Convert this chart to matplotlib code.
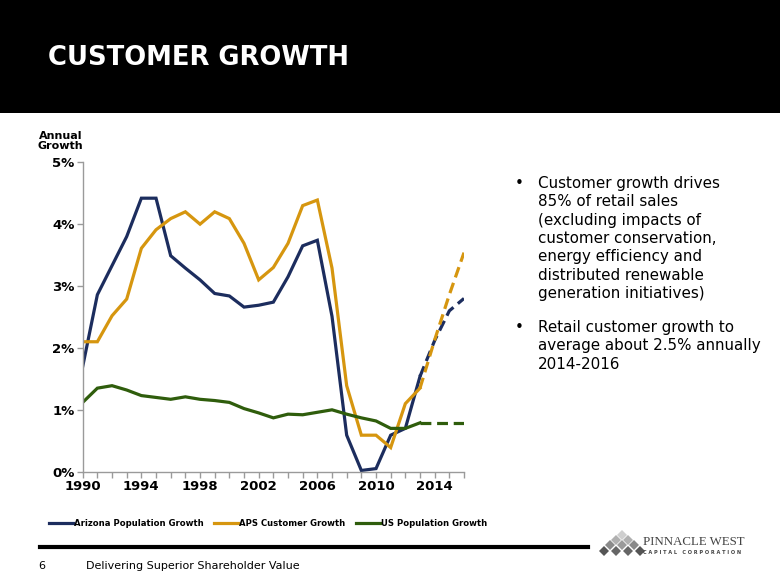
import numpy as np
import matplotlib
matplotlib.use("Agg")
import matplotlib.pyplot as plt
from matplotlib.patches import Rectangle, Polygon
from matplotlib.lines import Line2D

# data (annual growth, %)
years = list(range(1990, 2017))
arizona = [1.70, 2.86, 3.33, 3.80, 4.42, 4.42, 3.49, 3.29, 3.10, 2.88, 2.84, 2.66, 2.69,
           2.74, 3.15, 3.65, 3.74, 2.51, 0.59, 0.02, 0.05, 0.59, 0.70, 1.54, 2.12, 2.60, 2.80]
aps = [2.10, 2.10, 2.52, 2.79, 3.61, 3.91, 4.09, 4.20, 4.00, 4.20, 4.09, 3.69, 3.10,
       3.30, 3.69, 4.30, 4.39, 3.29, 1.39, 0.59, 0.59, 0.39, 1.10, 1.35, 2.13, 2.86, 3.54]
us = [1.12, 1.35, 1.39, 1.32, 1.23, 1.20, 1.17, 1.21, 1.17, 1.15, 1.12, 1.02, 0.95,
      0.87, 0.93, 0.92, 0.96, 1.00, 0.93, 0.87, 0.82, 0.70, 0.70, 0.79, 0.79, 0.79, 0.79]
last_actual = 2013  # dashed projection after this year

series_names = ["Arizona Population Growth", "APS Customer Growth", "US Population Growth"]
series_colors = ["#1c2d5e", "#d6960f", "#2f5d0c"]

xtick_years = [1990, 1994, 1998, 2002, 2006, 2010, 2014]
ytick_vals = [0, 1, 2, 3, 4, 5]

bullets = [
    "Customer growth drives\n85% of retail sales\n(excluding impacts of\ncustomer conservation,\nenergy efficiency and\ndistributed renewable\ngeneration initiatives)",
    "Retail customer growth to\naverage about 2.5% annually\n2014-2016",
]

fig = plt.figure(figsize=(7.8, 5.85), dpi=100)
fig.patch.set_facecolor("white")

# black header band
fig.patches.append(Rectangle((0, 1 - 113 / 585), 1, 113 / 585, transform=fig.transFigure,
                             facecolor="black", edgecolor="none", zorder=0))
fig.text(48 / 780, 1 - 58 / 585, "CUSTOMER GROWTH", color="white", fontsize=18.6,
         fontweight="bold", va="center", ha="left")

ax = fig.add_axes([82.7 / 780, 1 - 471.7 / 585, (464 - 82.7) / 780, (471.7 - 162.3) / 585])

yrs = np.array(years)
split = years.index(last_actual)
for vals, col in zip([arizona, aps, us], series_colors):
    vals = np.array(vals)
    ax.plot(yrs[:split + 1], vals[:split + 1], color=col, lw=2.3, solid_joinstyle="miter")
    ax.plot(yrs[split:], vals[split:], color=col, lw=2.3, ls=(0, (3.4, 1.8)))

ax.set_xlim(1990, 2016)
ax.set_ylim(0, 5)
ax.set_xticks(years, minor=True)
ax.set_xticks(xtick_years)
ax.set_xticklabels([str(y) for y in xtick_years], fontsize=9.5, fontweight="bold")
ax.set_yticks(ytick_vals)
ax.set_yticklabels([f"{v}%" for v in ytick_vals], fontsize=9.5, fontweight="bold")
for s in ["top", "right"]:
    ax.spines[s].set_visible(False)
for s in ["left", "bottom"]:
    ax.spines[s].set_color("#9a9a9a")
    ax.spines[s].set_linewidth(1.0)
ax.tick_params(axis="both", which="both", direction="out", color="#9a9a9a", length=4, width=1)
ax.tick_params(axis="x", pad=2)
ax.tick_params(axis="y", pad=2)

fig.text(60.5 / 780, 1 - 141 / 585, "Annual\nGrowth", fontsize=8, fontweight="bold",
         va="center", ha="center", linespacing=1.1)

# legend under the chart
handles = [Line2D([0], [0], color=c, lw=2.3) for c in series_colors]
fig.legend(handles, series_names, loc="center left", bbox_to_anchor=(43 / 780, 1 - 523 / 585),
           ncol=3, frameon=False, handlelength=2.8, handletextpad=0.1, columnspacing=1.3,
           borderpad=0.2, prop={"size": 6.1, "weight": "bold"})

# bullet text
fig.text(515 / 780, 1 - 184 / 585, "\u2022", fontsize=10.9, va="center", ha="left")
fig.text(538 / 780, 1 - 176 / 585, bullets[0], fontsize=10.9, va="top", ha="left",
         linespacing=1.28)
fig.text(515 / 780, 1 - 328 / 585, "\u2022", fontsize=10.9, va="center", ha="left")
fig.text(538 / 780, 1 - 320 / 585, bullets[1], fontsize=10.9, va="top", ha="left",
         linespacing=1.28)

# footer
fig.add_artist(Line2D([40 / 780, 588 / 780], [1 - 547 / 585, 1 - 547 / 585], color="black", lw=3,
                      transform=fig.transFigure))
fig.text(38 / 780, 1 - 566 / 585, "6", fontsize=8, va="center", ha="left")
fig.text(86 / 780, 1 - 566 / 585, "Delivering Superior Shareholder Value", fontsize=8,
         va="center", ha="left")

# logo: pyramid of diamonds plus name
def diamond(cx, cy, r, col):
    pts = [(cx, cy - r), (cx + r, cy), (cx, cy + r), (cx - r, cy)]
    pts = [(x / 780, 1 - y / 585) for x, y in pts]
    fig.patches.append(Polygon(pts, closed=True, transform=fig.transFigure, facecolor=col,
                               edgecolor="none"))

for (cx, cy, col) in [(622, 535, "#cfcfcf"), (616, 540, "#b0b0b0"), (628, 540, "#b0b0b0"),
                      (610, 545, "#8a8a8a"), (622, 545, "#9a9a9a"), (634, 545, "#8a8a8a"),
                      (604, 551, "#555555"), (616, 551, "#666666"), (628, 551, "#666666"),
                      (640, 551, "#555555")]:
    diamond(cx, cy, 5, col)

fig.text(643 / 780, 1 - 542 / 585, "PINNACLE WEST", fontsize=9.3, family="Liberation Serif",
         color="#444444", va="center", ha="left")
fig.text(643 / 780, 1 - 553 / 585, "C A P I T A L   C O R P O R A T I O N", fontsize=3.6,
         color="#444444", va="center", ha="left", fontweight="bold")

fig.savefig("out.png", dpi=100, facecolor="white")
